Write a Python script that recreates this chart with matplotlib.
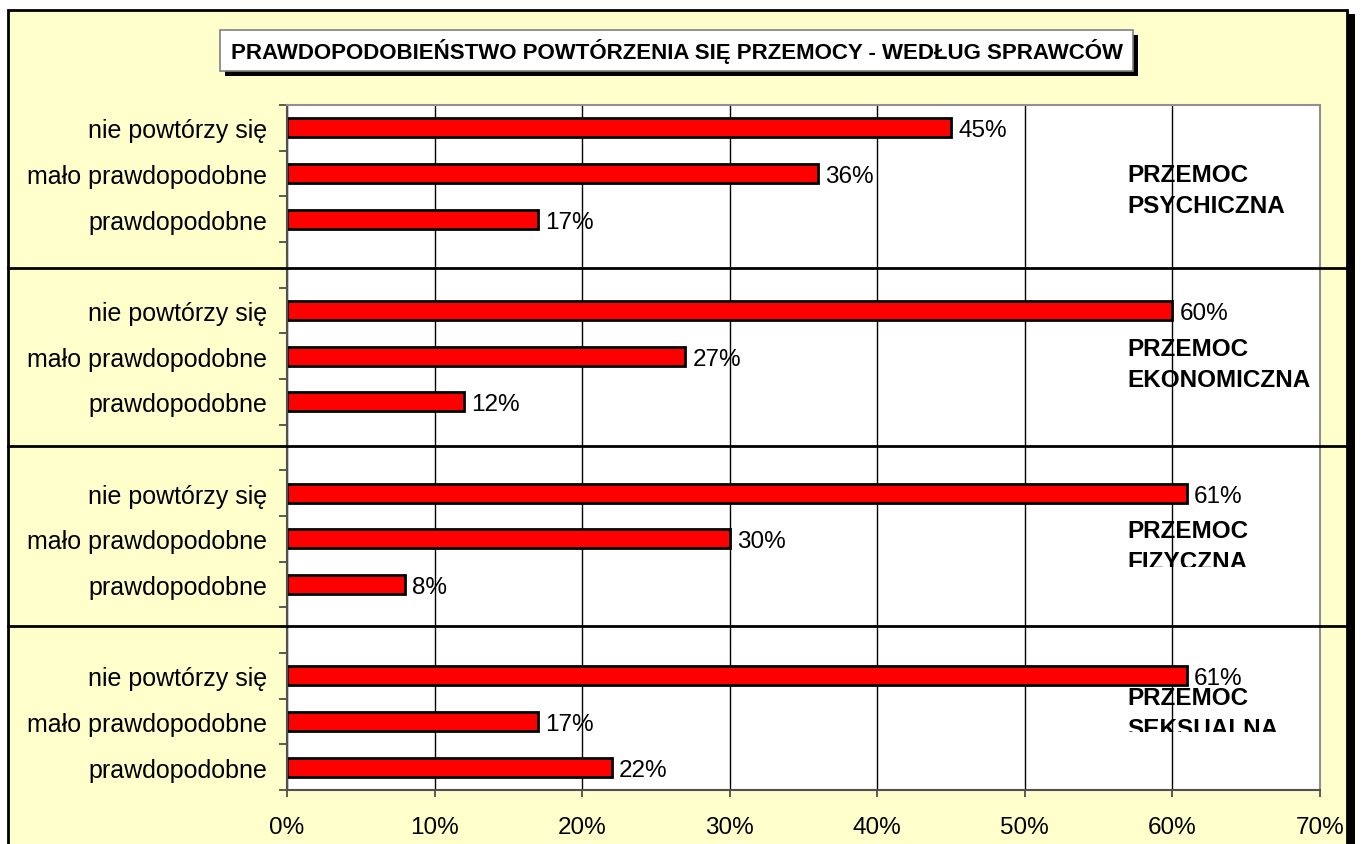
import matplotlib
matplotlib.use('Agg')
import matplotlib.pyplot as plt
import numpy as np
from matplotlib.patches import Rectangle
from matplotlib.lines import Line2D
from matplotlib.transforms import Affine2D

plt.rcParams['font.family'] = ['Liberation Sans', 'DejaVu Sans']

# data
groups = ['PRZEMOC\nPSYCHICZNA', 'PRZEMOC\nEKONOMICZNA', 'PRZEMOC\nFIZYCZNA', 'PRZEMOC\nSEKSUALNA']
answers = ['nie powtórzy się', 'mało prawdopodobne', 'prawdopodobne']
psychiczna = [45, 36, 17]
ekonomiczna = [60, 27, 12]
fizyczna = [61, 30, 8]
seksualna = [61, 17, 22]
series = [psychiczna, ekonomiczna, fizyczna, seksualna]
xticks = [0, 10, 20, 30, 40, 50, 60, 70]
title = 'PRAWDOPODOBIEŃSTWO POWTÓRZENIA SIĘ PRZEMOCY - WEDŁUG SPRAWCÓW'

W, H = 1361, 845
bg = '#FFFFCC'
fig = plt.figure(figsize=(W / 100, H / 100), dpi=100, facecolor='white')
# pixel coords measured from top-left
px = Affine2D().scale(1 / W, -1 / H).translate(0, 1) + fig.transFigure

# outer frame with shadow
fig.patches.append(Rectangle((16, 15), 1339, 900, transform=px, facecolor='black',
                             edgecolor='none', zorder=-3))
fig.patches.append(Rectangle((8, 11), 1339, 900, transform=px, facecolor=bg,
                             edgecolor='black', linewidth=2, zorder=-2))

ax = fig.add_axes([287 / W, 1 - 791 / H, (1320 - 287) / W, (791 - 106) / H])
ax.set_facecolor('white')

# y layout: 3 bars per group + one empty slot between groups
ypos, ylabels, vals = [], [], []
for g, vs in enumerate(series):
    for j, v in enumerate(vs):
        ypos.append(g * 4 + j)
        ylabels.append(answers[j])
        vals.append(v)
nslots = len(groups) * 4 - 1

ax.barh(ypos, vals, height=0.42, color='#FF0000', edgecolor='black', linewidth=2, zorder=1)
for y, v in zip(ypos, vals):
    ax.annotate(f'{v}%', (v, y), xytext=(7, 0), textcoords='offset pixels',
                va='center_baseline', ha='left', fontsize=17.5, zorder=0.2)

ax.set_xlim(0, 70)
ax.set_ylim(nslots - 0.5, -0.5)
ax.set_xticks(xticks)
ax.set_xticklabels([f'{t}%' for t in xticks], fontsize=17.5)
ax.set_yticks(np.arange(-0.5, nslots, 1.0))
ax.set_yticklabels([])
ax.set_yticks(ypos, minor=True)
ax.set_yticklabels(ylabels, minor=True, fontsize=18)
ax.tick_params(axis='y', which='major', length=6, width=1.2, color='#404040')
ax.tick_params(axis='y', which='minor', length=0, pad=14.4)
ax.tick_params(axis='x', length=5, width=1.2, color='#404040', pad=13.5)
ax.set_axisbelow(True)
ax.grid(axis='x', color='black', linewidth=1)
for s in ['top', 'right']:
    ax.spines[s].set_color('#909090')
    ax.spines[s].set_linewidth(1.5)
for s in ['left', 'bottom']:
    ax.spines[s].set_color('#505050')
    ax.spines[s].set_linewidth(1.5)

# group text boxes (clipped like the original)
boxes = [(150, 232), (325, 392), (510, 568), (687, 733)]
baselines = [(182, 213), (356, 387), (538, 569), (705, 736)]
for name, (top, bot), (b1, b2) in zip(groups, boxes, baselines):
    r = Rectangle((1120, top), 195, bot - top, transform=px, facecolor='white',
                  edgecolor='none', zorder=0.3)
    ax.add_patch(r)
    for line, b in zip(name.split('\n'), (b1, b2)):
        t = ax.text(1127, b, line, transform=px, fontsize=17.5, fontweight='bold',
                    va='baseline', ha='left', zorder=0.35, clip_on=True)
        t.set_clip_path(r)

# separators between groups
for yy in [269, 447, 627]:
    fig.lines.append(Line2D([8, 1345], [yy, yy], transform=px, color='black',
                            linewidth=2, zorder=5))

# title box with shadow
fig.patches.append(Rectangle((225, 36), 913, 41, transform=px, facecolor='black',
                             edgecolor='none', zorder=3))
fig.patches.append(Rectangle((220, 31), 913, 41, transform=px, facecolor='white',
                             edgecolor='#808080', linewidth=1.2, zorder=4))
fig.text(677 / W, 1 - 52 / H, title, fontsize=16, fontweight='bold',
         ha='center', va='center', zorder=6)

fig.savefig('out.png', dpi=100, facecolor='white')
